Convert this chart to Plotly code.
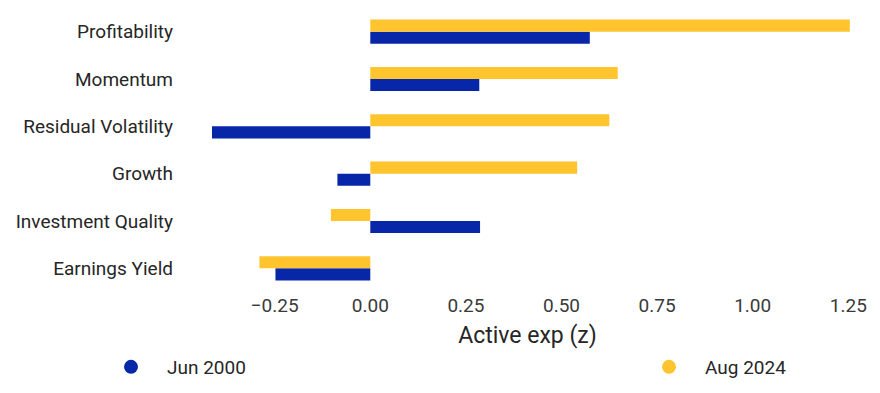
import plotly.graph_objects as go

categories = ["Profitability", "Momentum", "Residual Volatility", "Growth",
              "Investment Quality", "Earnings Yield"]
jun_2000 = [0.574, 0.285, -0.414, -0.086, 0.287, -0.248]
aug_2024 = [1.254, 0.647, 0.625, 0.541, -0.103, -0.290]
x_ticks = [-0.25, 0.0, 0.25, 0.5, 0.75, 1.0, 1.25]
x_tick_labels = ["\u22120.25", "0.00", "0.25", "0.50", "0.75", "1.00", "1.25"]

BLUE = "#0726a8"
YELLOW = "#ffc42e"
TXT = "#262626"

fig = go.Figure()
fig.add_trace(go.Bar(y=categories, x=jun_2000, orientation="h", name="Jun 2000",
                     marker=dict(color=BLUE, line=dict(width=0)), showlegend=False))
fig.add_trace(go.Bar(y=categories, x=aug_2024, orientation="h", name="Aug 2024",
                     marker=dict(color=YELLOW, line=dict(width=0)), showlegend=False))
# legend entries with circular symbols
fig.add_trace(go.Scatter(x=[None], y=[None], mode="markers", name="Jun 2000",
                         marker=dict(color=BLUE, size=14, symbol="circle"), legend="legend"))
fig.add_trace(go.Scatter(x=[None], y=[None], mode="markers", name="Aug 2024",
                         marker=dict(color=YELLOW, size=14, symbol="circle"), legend="legend2"))

L, R, T, B = 190, 15, 8, 101
W, H = 880, 393
pw, ph = W - L - R, H - T - B


def px_x(p):
    return (p - L) / pw


def px_y(p):
    return (H - B - p) / ph


leg_common = dict(orientation="h", yanchor="middle", xanchor="left",
                  font=dict(size=19, color=TXT), itemwidth=62,
                  bgcolor="rgba(0,0,0,0)")

fig.update_layout(
    width=W, height=H,
    margin=dict(l=L, r=R, t=T, b=B, autoexpand=False),
    paper_bgcolor="white", plot_bgcolor="white",
    barmode="group", bargap=0.49, bargroupgap=0,
    font=dict(family="Roboto", size=19, color=TXT),
    showlegend=True,
    legend=dict(x=px_x(95), y=px_y(367), **leg_common),
    legend2=dict(x=px_x(633), y=px_y(367), **leg_common),
    xaxis=dict(range=[-0.4715, 1.2937], tickvals=x_ticks, ticktext=x_tick_labels,
               showgrid=False, zeroline=False, showline=False,
               tickfont=dict(size=19, color="#3a3a3a"),
               title=dict(text="Active exp (z)", font=dict(size=23, color=TXT), standoff=10)),
    yaxis=dict(categoryorder="array", categoryarray=categories[::-1],
               showgrid=False, zeroline=False, showline=False,
               ticklabelstandoff=16, tickfont=dict(size=19, color=TXT)),
)

fig.write_html("out.html", config={"displayModeBar": False},
               post_script="document.body.style.margin='0';")
